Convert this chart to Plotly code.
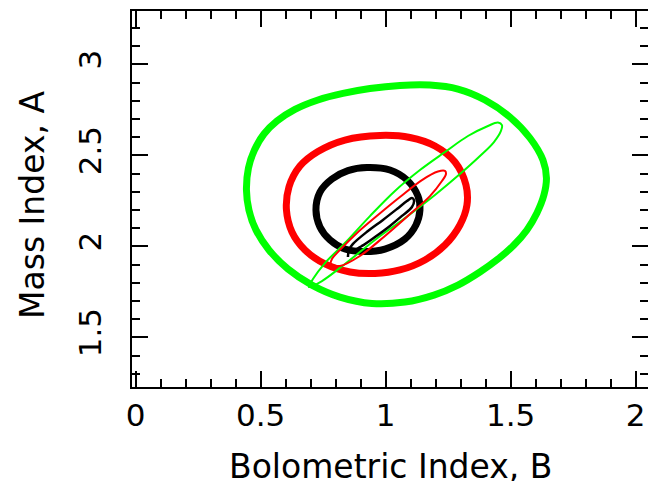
import plotly.graph_objects as go

# ---- contour data (data units) ----
green_thick_x = [0.443, 0.451, 0.475, 0.513, 0.565, 0.637, 0.729, 0.829, 0.937, 1.057, 1.177, 1.289,
                 1.397, 1.497, 1.577, 1.629, 1.643, 1.633, 1.605, 1.565, 1.513, 1.449, 1.377, 1.289,
                 1.193, 1.077, 0.945, 0.817, 0.705, 0.609, 0.533, 0.481, 0.453]
green_thick_y = [2.309, 2.430, 2.529, 2.617, 2.688, 2.752, 2.804, 2.840, 2.867, 2.884, 2.886, 2.864,
                 2.804, 2.710, 2.595, 2.474, 2.375, 2.282, 2.183, 2.090, 2.007, 1.930, 1.859, 1.787,
                 1.732, 1.694, 1.686, 1.721, 1.787, 1.875, 1.980, 2.090, 2.199]

red_thick_x = [0.977, 1.097, 1.197, 1.277, 1.321, 1.325, 1.297, 1.237, 1.157, 1.057, 0.957, 0.857,
               0.757, 0.677, 0.625, 0.603, 0.613, 0.657, 0.729, 0.837]
red_thick_y = [2.609, 2.598, 2.551, 2.463, 2.337, 2.227, 2.117, 2.007, 1.925, 1.870, 1.851, 1.859,
               1.903, 1.980, 2.079, 2.199, 2.326, 2.441, 2.521, 2.584]

black_thick_x = [0.925, 1.017, 1.085, 1.129, 1.137, 1.121, 1.077, 0.997, 0.917, 0.837, 0.777, 0.737,
                 0.721, 0.737, 0.785, 0.849]
black_thick_y = [2.433, 2.419, 2.364, 2.276, 2.199, 2.117, 2.040, 1.985, 1.971, 1.985, 2.035, 2.106,
                 2.199, 2.298, 2.370, 2.416]

green_thin_x = [0.693, 0.745, 0.837, 0.957, 1.077, 1.197, 1.297, 1.377, 1.433, 1.461, 1.465, 1.449,
                1.409, 1.329, 1.237, 1.137, 1.037, 0.937, 0.837, 0.757, 0.709]
green_thin_y = [1.776, 1.809, 1.903, 2.035, 2.155, 2.282, 2.397, 2.496, 2.573, 2.634, 2.666, 2.680,
                2.661, 2.606, 2.518, 2.419, 2.304, 2.166, 2.018, 1.908, 1.820]

red_thin_x = [0.781, 0.817, 0.897, 0.997, 1.097, 1.177, 1.225, 1.241, 1.237, 1.209, 1.145, 1.057,
              0.969, 0.881, 0.817, 0.785]
red_thin_y = [1.903, 1.892, 1.947, 2.057, 2.177, 2.276, 2.359, 2.397, 2.414, 2.411, 2.364, 2.271,
              2.172, 2.068, 1.980, 1.930]

black_thin_x = [0.849, 0.853, 0.869, 0.929, 0.989, 1.045, 1.085, 1.105, 1.113, 1.105, 1.065, 1.017,
                0.957, 0.905, 0.873, 0.853]
black_thin_y = [1.941, 1.980, 2.013, 2.084, 2.145, 2.205, 2.249, 2.265, 2.254, 2.216, 2.167, 2.112,
                2.051, 2.002, 1.980, 1.978]

x_tick_vals = [0, 0.5, 1, 1.5, 2]
x_tick_text = ["0", "0.5", "1", "1.5", "2"]
y_tick_vals = [1.5, 2, 2.5, 3]
y_tick_text = ["1.5", "2", "2.5", "3"]

x_title = "Bolometric Index, B"
y_title = "Mass Index, A"

FONT = "DejaVu Sans"

fig = go.Figure()


def add_curve(xs, ys, color, width, closed=True):
    xs = list(xs)
    ys = list(ys)
    if closed:
        xs = xs + xs[:1]
        ys = ys + ys[:1]
    fig.add_trace(go.Scatter(
        x=xs, y=ys, mode="lines",
        line=dict(color=color, width=width, shape="spline", smoothing=1),
        hoverinfo="skip", showlegend=False,
    ))


add_curve(green_thick_x, green_thick_y, "#00ff00", 7)
add_curve(red_thick_x, red_thick_y, "#ff0000", 7)
add_curve(black_thick_x, black_thick_y, "#000000", 7)
add_curve(green_thin_x, green_thin_y, "#00ff00", 2)
add_curve(red_thin_x, red_thin_y, "#ff0000", 2)
add_curve(black_thin_x, black_thin_y, "#000000", 2.5, closed=False)

axis_common = dict(
    ticks="inside", ticklen=16, tickwidth=2, tickcolor="black",
    showline=True, linewidth=2, linecolor="black", mirror="ticks",
    showgrid=False, zeroline=False, automargin=False,
    tickfont=dict(family=FONT, size=31, color="black"),
    minor=dict(dtick=0.1, tick0=0, ticks="inside", ticklen=8, tickwidth=2,
               tickcolor="black", showgrid=False),
)

fig.update_layout(
    width=648, height=481,
    margin=dict(l=132, r=0, t=11, b=94, pad=0),
    paper_bgcolor="white", plot_bgcolor="white",
    showlegend=False,
    font=dict(family=FONT, color="black"),
    xaxis=dict(range=[-0.0148, 2.0492], tickmode="array", tickvals=x_tick_vals,
               ticktext=x_tick_text, ticklabelstandoff=0, **axis_common),
    yaxis=dict(range=[1.2269, 3.2929], tickmode="array", tickvals=y_tick_vals,
               ticktext=y_tick_text, tickangle=-90, ticklabelstandoff=17, **axis_common),
    annotations=[
        dict(text=x_title, x=0.5, y=0, xref="paper", yref="paper",
             xanchor="center", yanchor="middle", yshift=-79, showarrow=False,
             font=dict(family=FONT, size=33, color="black")),
        dict(text=y_title, x=0, y=0.5, xref="paper", yref="paper",
             xanchor="center", yanchor="middle", xshift=-100, yshift=-6,
             textangle=-90, showarrow=False,
             font=dict(family=FONT, size=33, color="black")),
    ],
)

fig.write_html("out.html")
